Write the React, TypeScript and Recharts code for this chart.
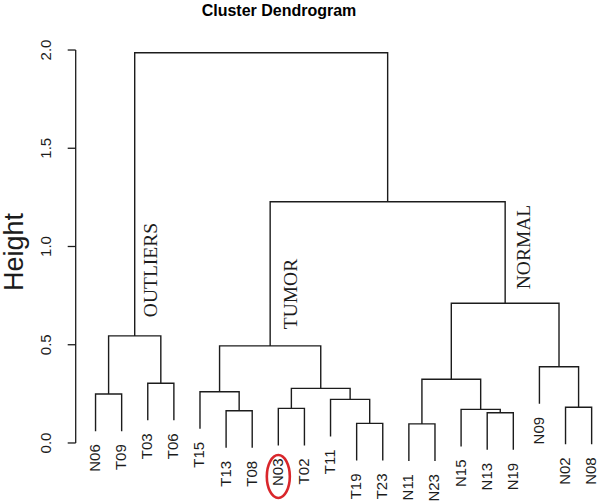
import React from 'react'
import { ComposedChart, Line, Scatter, XAxis, YAxis, ReferenceLine } from 'recharts'

// leaves in plotting order (left to right)
const leafLabels = [
  'N06', 'T09', 'T03', 'T06', 'T15', 'T13', 'T08', 'N03', 'T02', 'T11',
  'T19', 'T23', 'N11', 'N23', 'N15', 'N13', 'N19', 'N09', 'N02', 'N08',
]
const highlighted = ['N03']

// hclust-style merge table: negative = leaf (1-based), positive = earlier merge
const mergeLeft = [-1, -3, 1, -6, -5, -8, -11, -10, 6, 5, -13, -16, -15, 11, -19, -18, 14, 10, 3]
const mergeRight = [-2, -4, 2, -7, 4, -9, -12, 7, 8, 9, -14, -17, 12, 13, -20, 15, 16, 17, 18]
const mergeHeight = [
  0.249, 0.304, 0.545, 0.164, 0.261, 0.176, 0.1, 0.222, 0.278, 0.494,
  0.097, 0.154, 0.171, 0.324, 0.182, 0.388, 0.711, 1.228, 1.986,
]

const yTicks = [0, 0.5, 1, 1.5, 2]
const clusterNames = ['OUTLIERS', 'TUMOR', 'NORMAL']

const SANS = '"Liberation Sans", Arial, sans-serif'
const SERIF = '"Liberation Serif", "Times New Roman", serif'
const INK = '#1c1c1c'

// leaves hang 10% of the height range below their parent (R default hang = 0.1)
const hang = 0.1 * (Math.max(...mergeHeight) - Math.min(...mergeHeight))

const nodeX: number[] = []
const leafEnds: { x: number; y: number; name: string }[] = []
const segments: { x: number; y: number }[][] = []

const childPos = (ref: number, parentH: number) => {
  if (ref < 0) {
    const x = -ref
    leafEnds.push({ x, y: parentH - hang, name: leafLabels[x - 1] })
    return { x, y: parentH - hang }
  }
  return { x: nodeX[ref - 1], y: mergeHeight[ref - 1] }
}

mergeHeight.forEach((h, i) => {
  const l = childPos(mergeLeft[i], h)
  const r = childPos(mergeRight[i], h)
  nodeX[i] = (l.x + r.x) / 2
  segments.push([
    { x: l.x, y: l.y },
    { x: l.x, y: h },
    { x: r.x, y: h },
    { x: r.x, y: r.y },
  ])
})

const YTick = (props: any) => {
  const { x, y, payload } = props
  const tx = x - 15
  return (
    <text x={tx} y={y} transform={`rotate(-90 ${tx} ${y})`} textAnchor="middle"
      fontSize={15} fontFamily={SANS} fill={INK}>
      {Number(payload.value).toFixed(1)}
    </text>
  )
}

const LeafLabel = (props: any) => {
  const { cx, cy, payload } = props
  const ty = cy + 13
  return (
    <g>
      <text x={cx} y={ty} dy="0.3em" transform={`rotate(-90 ${cx} ${ty})`} textAnchor="end"
        fontSize={15} fontFamily={SANS} fill={INK}>
        {payload.name}
      </text>
      {highlighted.includes(payload.name) && (
        <ellipse cx={cx} cy={cy + 31} rx={11.5} ry={21.5} fill="none" stroke="#d9262b" strokeWidth={2.6} />
      )}
    </g>
  )
}

const labelPos = [
  { x: 157, y: 270 },
  { x: 297, y: 294 },
  { x: 530, y: 247 },
]

export default function App() {
  return (
    <div style={{ position: 'absolute', left: 0, top: 0, width: 600, height: 504, background: '#fff' }}>
      <ComposedChart width={600} height={504} margin={{ top: 40, right: 0, bottom: 40, left: 0 }}>
        <XAxis type="number" dataKey="x" domain={[0.24, 20.32]} hide />
        <YAxis type="number" dataKey="y" domain={[-0.107, 2.051]} ticks={yTicks} width={75.7}
          axisLine={false} tickSize={8} tickLine={{ stroke: INK, strokeWidth: 1.3 }} tick={<YTick />} />
        <ReferenceLine segment={[{ x: 0.24, y: 0 }, { x: 0.24, y: 2 }]} stroke={INK} strokeWidth={1.3} ifOverflow="visible" />
        {segments.map((pts, i) => (
          <Line key={i} data={pts} dataKey="y" type="linear" stroke={INK} strokeWidth={1.4}
            dot={false} activeDot={false} isAnimationActive={false} />
        ))}
        <Scatter data={leafEnds} dataKey="y" shape={<LeafLabel />} isAnimationActive={false} />
      </ComposedChart>
      <svg width={600} height={504} style={{ position: 'absolute', left: 0, top: 0, pointerEvents: 'none' }}>
        <text x={279} y={16} textAnchor="middle" fontSize={16} fontWeight="bold" fontFamily={SANS} fill="#000">
          Cluster Dendrogram
        </text>
        <text x={22.5} y={252} transform="rotate(-90 22.5 252)" textAnchor="middle" fontSize={27} fontFamily={SANS} fill={INK}>
          Height
        </text>
        {clusterNames.map((name, i) => (
          <text key={name} x={labelPos[i].x} y={labelPos[i].y}
            transform={`rotate(-90 ${labelPos[i].x} ${labelPos[i].y})`} textAnchor="middle"
            fontSize={19.5} fontFamily={SERIF} fill={INK}>
            {name}
          </text>
        ))}
      </svg>
    </div>
  )
}
